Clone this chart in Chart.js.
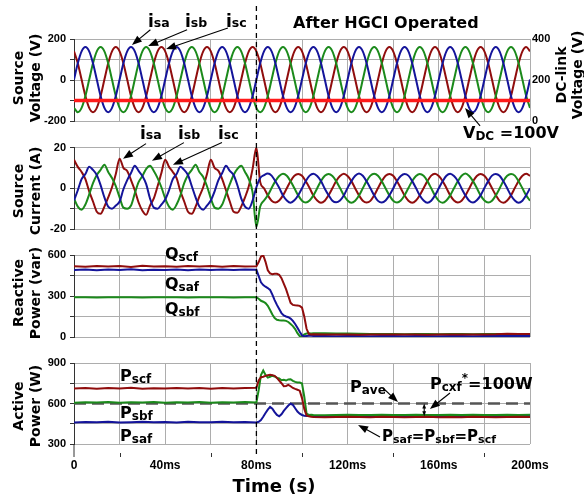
<!DOCTYPE html>
<html>
<head>
<meta charset="utf-8">
<script src="https://cdn.jsdelivr.net/npm/chart.js@4.4.1/dist/chart.umd.min.js"></script>
<style>
  body { margin: 0; background: #fff; }
  #fig { position: relative; width: 584px; height: 497px; overflow: hidden;
         font-family: "DejaVu Sans", Verdana, sans-serif; font-weight: bold; color: #000; }
  #fig canvas { position: absolute; left: 0; }
  .lbl { position: absolute; white-space: nowrap; line-height: 1; z-index: 2; }
  .ax { position: absolute; white-space: nowrap; text-align: center; font-size: 14px; line-height: 17px;
        transform: translate(-50%, -50%) rotate(-90deg); z-index: 2; }
  .i { font-size: 17px; }
  .i .s { font-size: 12.5px; }
  .pq { font-size: 16px; }
  .pq .s { font-size: 12px; position: relative; top: 2px; }
  .sup { font-size: 12px; position: relative; top: -7px; }
</style>
</head>
<body>
<div id="fig">
  <canvas id="cVolt" width="584" height="134" style="top:0px"></canvas>
  <canvas id="cCurr" width="584" height="108" style="top:134px"></canvas>
  <canvas id="cReac" width="584" height="108" style="top:242px"></canvas>
  <canvas id="cAct" width="584" height="147" style="top:350px"></canvas>

  <div class="ax" style="left:27px;top:78px">Source<br>Voltage (V)</div>
  <div class="ax" style="left:27px;top:191px">Source<br>Current (A)</div>
  <div class="ax" style="left:27px;top:293px">Reactive<br>Power (var)</div>
  <div class="ax" style="left:27px;top:406px">Active<br>Power (W)</div>
  <div class="ax" style="left:569px;top:75px;line-height:16px">DC-link<br>Voltage (V)</div>

  <div class="lbl" style="left:293px;top:15px;font-size:16px">After HGCI Operated</div>

  <div class="lbl i" style="left:148px;top:13px">i<span class="s">sa</span></div>
  <div class="lbl i" style="left:185px;top:13px">i<span class="s">sb</span></div>
  <div class="lbl i" style="left:226px;top:13px">i<span class="s">sc</span></div>
  <div class="lbl pq" style="left:463px;top:125px">V<span class="s">DC</span> =100V</div>

  <div class="lbl i" style="left:140px;top:125px">i<span class="s">sa</span></div>
  <div class="lbl i" style="left:178px;top:125px">i<span class="s">sb</span></div>
  <div class="lbl i" style="left:218px;top:125px">i<span class="s">sc</span></div>

  <div class="lbl pq" style="left:165px;top:246px">Q<span class="s">scf</span></div>
  <div class="lbl pq" style="left:165px;top:276px">Q<span class="s">saf</span></div>
  <div class="lbl pq" style="left:165px;top:301px">Q<span class="s">sbf</span></div>

  <div class="lbl pq" style="left:120px;top:368px">P<span class="s">scf</span></div>
  <div class="lbl pq" style="left:120px;top:405px">P<span class="s">sbf</span></div>
  <div class="lbl pq" style="left:120px;top:428px">P<span class="s">saf</span></div>
  <div class="lbl pq" style="left:350px;top:379px">P<span class="s">ave</span></div>
  <div class="lbl pq" style="left:430px;top:376px">P<span class="s">cxf</span><span class="sup">*</span>=100W</div>
  <div class="lbl pq" style="left:382px;top:429px;font-size:15px">P<span class="s" style="font-size:11px">saf</span>=P<span class="s" style="font-size:11px">sbf</span>=P<span class="s" style="font-size:11px">scf</span></div>

  <div class="lbl" style="left:274px;top:477px;font-size:18px;transform:translateX(-50%)">Time (s)</div>
</div>

<script>
// ---- data ----
// waveforms are sampled every 5/3 ms (12 samples per 50 Hz cycle), 0..200 ms
const WAVE_STEP_MS = 5 / 3;

// source voltages (V)
const vSa = [
  2, 82, 140, 161, 140, 82, 2, -78, -136, -157, -136, -78,
  2, 82, 140, 161, 140, 82, 2, -78, -136, -157, -136, -78,
  2, 82, 140, 161, 140, 82, 2, -78, -136, -157, -136, -78,
  2, 82, 140, 161, 140, 82, 2, -78, -136, -157, -136, -78,
  2, 82, 140, 161, 140, 82, 2, -78, -136, -157, -136, -78,
  2, 82, 140, 161, 140, 82, 2, -78, -136, -157, -136, -78,
  2, 82, 140, 161, 140, 82, 2, -78, -136, -157, -136, -78,
  2, 82, 140, 161, 140, 82, 2, -78, -136, -157, -136, -78,
  2, 82, 140, 161, 140, 82, 2, -78, -136, -157, -136, -78,
  2, 82, 140, 161, 140, 82, 2, -78, -136, -157, -136, -78,
  2
];
const vSb = [
  -136, -157, -136, -78, 2, 82, 140, 161, 140, 82, 2, -78,
  -136, -157, -136, -78, 2, 82, 140, 161, 140, 82, 2, -78,
  -136, -157, -136, -78, 2, 82, 140, 161, 140, 82, 2, -78,
  -136, -157, -136, -78, 2, 82, 140, 161, 140, 82, 2, -78,
  -136, -157, -136, -78, 2, 82, 140, 161, 140, 82, 2, -78,
  -136, -157, -136, -78, 2, 82, 140, 161, 140, 82, 2, -78,
  -136, -157, -136, -78, 2, 82, 140, 161, 140, 82, 2, -78,
  -136, -157, -136, -78, 2, 82, 140, 161, 140, 82, 2, -78,
  -136, -157, -136, -78, 2, 82, 140, 161, 140, 82, 2, -78,
  -136, -157, -136, -78, 2, 82, 140, 161, 140, 82, 2, -78,
  -136
];
const vSc = [
  140, 82, 2, -78, -136, -157, -136, -78, 2, 82, 140, 161,
  140, 82, 2, -78, -136, -157, -136, -78, 2, 82, 140, 161,
  140, 82, 2, -78, -136, -157, -136, -78, 2, 82, 140, 161,
  140, 82, 2, -78, -136, -157, -136, -78, 2, 82, 140, 161,
  140, 82, 2, -78, -136, -157, -136, -78, 2, 82, 140, 161,
  140, 82, 2, -78, -136, -157, -136, -78, 2, 82, 140, 161,
  140, 82, 2, -78, -136, -157, -136, -78, 2, 82, 140, 161,
  140, 82, 2, -78, -136, -157, -136, -78, 2, 82, 140, 161,
  140, 82, 2, -78, -136, -157, -136, -78, 2, 82, 140, 161,
  140, 82, 2, -78, -136, -157, -136, -78, 2, 82, 140, 161,
  140
];
// DC-link voltage (right axis)
const vdcTimeMs = [0, 200];
const vdcLevel = [100, 100];

// source currents (A)
const iSa = [
  -6, -1, 4.5, 7, 10.5, 9, 6.5, 1.5, -4.5, -9, -10, -8.5,
  -6.5, -0.5, 4, 7.5, 11, 8.5, 6, 2, -5, -9.5, -10, -8,
  -5.5, -1, 4.5, 7, 10.5, 9, 6.5, 1, -4.5, -9, -10.5, -8.5,
  -6, -1.5, 4, 7.5, 11, 8.5, 6.5, 1.5, -5, -9, -10, -6,
  0.5, 5, 6.4, 7.2, 6.2, 3.4, 0.2, -3.6, -6, -7.1, -5.9, -3.4,
  0, 3.6, 6.2, 7.1, 6, 3.5, -0.2, -3.4, -6.1, -6.9, -6, -3.6,
  0.2, 3.5, 6.1, 7.2, 6.1, 3.4, 0, -3.5, -6.2, -7, -6, -3.4,
  -0.1, 3.6, 6, 7, 6.2, 3.5, 0.1, -3.6, -6, -7.1, -6.1, -3.5,
  0, 3.4, 6.1, 7.1, 6, 3.6, -0.1, -3.5, -6.1, -7, -5.9, -3.5,
  0.1, 3.5, 6.2, 7, 6.1, 3.4, 0, -3.6, -6, -7.1, -6.1, -3.4,
  0
];
const iSb = [
  -5, -9, -10.5, -8, -3, 2.5, 6.5, 9, 11.5, 8, 5, 1,
  -4.5, -9.5, -10, -8.5, -2.5, 3, 6, 9.5, 11, 8.5, 5, 0.5,
  -5, -9, -10.5, -8, -3.5, 2.5, 6.5, 9, 11.5, 8, 5.5, 1,
  -5, -9.5, -10, -8, -3, 2, 6.5, 9.5, 11, 8, 4.5, -2,
  -19, -9, -6, -3.5, 0.1, 3.5, 6, 7.1, 6.1, 3.4, 0, -3.5,
  -6.1, -7, -6, -3.5, 0, 3.6, 6.1, 7, 6, 3.5, 0.1, -3.4,
  -6, -7.1, -6.1, -3.6, 0, 3.5, 6.2, 7.1, 6.1, 3.4, -0.1, -3.5,
  -6.1, -7, -6, -3.4, 0.1, 3.6, 6, 7, 6.1, 3.5, 0, -3.6,
  -6.2, -7.1, -6, -3.5, 0, 3.4, 6.1, 7.2, 6, 3.5, 0.1, -3.5,
  -6, -7, -6.1, -3.5, -0.1, 3.6, 6.1, 7, 6.2, 3.4, 0, -3.5,
  -6.1
];
const iSc = [
  14, 10.5, 8, 4.5, -1.5, -6.5, -11.5, -12.5, -9, -4.5, 0.5, 7,
  14.5, 10, 8.5, 4, -1, -7, -11, -13, -8.5, -5, 1, 7.5,
  14, 10.5, 8, 5, -1.5, -6.5, -11.5, -12.5, -9, -4, 0.5, 7,
  14, 10, 8.5, 4.5, -1, -6.5, -11.5, -12, -9, -4.5, 1, 9.5,
  20, 3, 0, -3.5, -6.1, -7, -6, -3.5, 0, 3.5, 6.1, 7,
  6.1, 3.4, 0.1, -3.6, -6, -7.1, -6.1, -3.4, 0, 3.6, 6, 7.1,
  6, 3.5, -0.1, -3.5, -6.1, -7, -6.2, -3.5, 0.1, 3.5, 6.1, 7,
  6.1, 3.4, 0, -3.6, -6.1, -7.1, -6, -3.4, 0, 3.5, 6.2, 7.1,
  6, 3.6, 0.1, -3.5, -6, -7, -6.1, -3.6, -0.1, 3.4, 6, 7,
  6.1, 3.5, 0, -3.4, -6.2, -7.1, -6, -3.5, 0.1, 3.6, 6.1, 7.1,
  6.1
];

// power traces: shared time base (ms), denser through the transient
const tPowerMs = [
  0, 5, 10, 15, 20, 25, 30, 35, 40, 45, 50, 55, 60, 65, 70, 75, 80,
  81, 82, 83, 84, 85, 86, 87, 88, 89, 90, 91, 92, 93, 94, 95, 96, 97, 98, 99, 100, 101, 102, 103, 104, 105,
  110, 115, 120, 125, 130, 135, 140, 145, 150, 155, 160, 165, 170, 175, 180, 185, 190, 195, 200
];
// reactive power (var)
const qScf = [
  518, 514, 520, 515, 519, 513, 521, 516, 518, 514, 520, 515, 519, 514, 520, 516, 518,
  548, 588, 598, 550, 488, 465, 460, 463, 462, 455, 430, 390, 350, 300, 250, 235, 232, 230, 228, 215, 150, 60, 22, 18, 20,
  18, 19, 18, 17, 18, 18, 19, 18, 18, 17, 18, 18, 19, 18, 18, 20, 24, 22, 22
];
const qSaf = [
  490, 494, 489, 493, 490, 495, 489, 492, 490, 494, 489, 493, 490, 494, 490, 493, 492,
  445, 400, 380, 368, 358, 345, 310, 270, 235, 205, 175, 158, 150, 145, 135, 118, 95, 68, 38, 12, 5, 8, 10, 10, 8,
  8, 6, 7, 7, 6, 7, 7, 6, 7, 7, 6, 7, 7, 6, 7, 7, 8, 7, 8
];
const qSbf = [
  290, 290, 289, 290, 290, 290, 289, 290, 290, 290, 289, 290, 290, 290, 289, 290, 290,
  280, 265, 258, 248, 228, 198, 165, 138, 126, 122, 121, 120, 118, 110, 95, 80, 58, 28, 6, 3, 20, 26, 27, 26, 27,
  27, 26, 25, 23, 22, 22, 22, 21, 22, 22, 21, 22, 22, 21, 22, 22, 22, 22, 22
];
// active power (W)
const pScf = [
  712, 715, 710, 714, 711, 716, 710, 713, 712, 715, 711, 714, 710, 715, 711, 714, 716,
  770, 795, 798, 805, 810, 812, 810, 805, 790, 770, 750, 728, 730, 738, 728, 715, 708, 702, 695, 640, 560, 512, 505, 502, 500,
  498, 500, 502, 500, 499, 501, 500, 498, 500, 502, 499, 500, 498, 501, 500, 499, 500, 501, 500
];
const pSbf = [
  606, 610, 607, 611, 606, 609, 607, 612, 606, 610, 608, 611, 606, 610, 607, 611, 608,
  700, 810, 845, 812, 792, 798, 806, 800, 790, 785, 772, 775, 770, 778, 780, 768, 760, 755, 755, 748, 650, 525, 515, 516, 515,
  513, 515, 516, 514, 515, 516, 514, 515, 516, 515, 514, 516, 515, 516, 514, 515, 516, 515, 516
];
const pSaf = [
  460, 463, 461, 464, 460, 462, 465, 461, 463, 460, 464, 461, 462, 465, 461, 463, 460,
  465, 478, 502, 530, 555, 575, 562, 536, 515, 505, 520, 545, 565, 585, 598, 590, 565, 540, 525, 515, 510, 508, 508, 507, 508,
  507, 509, 506, 508, 507, 509, 507, 508, 506, 508, 507, 509, 507, 508, 507, 508, 509, 507, 508
];
const pAveTimeMs = [0, 200];
const pAve = [600, 600];

// axis ticks
const EVENT_MS = 80;
const voltLabels = [-200, 0, 200];
const currLabels = [-20, 0, 20];
const reacLabels = [0, 300, 600];
const actLabels = [300, 600, 900];
const minorTickMs = [20, 60, 100, 140, 180];

// annotation arrows, in data units [ms, value]
const voltArrows = [
  { from: [33.5, 245], to: [25.4, 171] },
  { from: [49.6, 245], to: [32.5, 166] },
  { from: [67.5, 254], to: [40.4, 151] },
  { from: [178.1, -224], to: [171.5, -137] }
];
const currArrows = [
  { from: [31.6, 21.9], to: [21.5, 14.5] },
  { from: [48.2, 22.4], to: [34.2, 13.5] },
  { from: [64.9, 22.4], to: [43.4, 11.5] }
];
const actArrows = [
  { from: [135.5, 715], to: [142.1, 611] },
  { from: [164.9, 678], to: [156.1, 559] },
  { from: [134.2, 352], to: [124.6, 441] }
];
const actGap = { t: 153.6, from: 600, to: 505 };

// ---- drawing ----
const BLUE = '#14149a', GREEN = '#1b8a1b', RED = '#900d0d';
const GRID = '#adadad';
const tickFont = { family: 'Liberation Sans', size: 11, weight: 'bold' };

const wave = arr => arr.map((v, i) => ({ x: i * WAVE_STEP_MS, y: v }));
const pairs = (ts, vs) => ts.map((t, i) => ({ x: t, y: vs[i] }));

function drawArrow(ctx, x0, y0, x1, y1, head) {
  const a = Math.atan2(y1 - y0, x1 - x0);
  const c = Math.cos(a), s = Math.sin(a);
  ctx.beginPath();
  ctx.moveTo(x0, y0);
  ctx.lineTo(x1 - c * head * 0.8, y1 - s * head * 0.8);
  ctx.stroke();
  ctx.beginPath();
  ctx.moveTo(x1, y1);
  ctx.lineTo(x1 - head * c + head * 0.38 * s, y1 - head * s - head * 0.38 * c);
  ctx.lineTo(x1 - head * c - head * 0.38 * s, y1 - head * s + head * 0.38 * c);
  ctx.closePath();
  ctx.fill();
}

const extrasPlugin = {
  id: 'extras',
  afterDraw(chart, args, opts) {
    const ctx = chart.ctx, xs = chart.scales.x, ys = chart.scales.y;
    const area = chart.chartArea;
    ctx.save();
    ctx.strokeStyle = '#000';
    ctx.fillStyle = '#000';

    // event marker
    const xe = xs.getPixelForValue(EVENT_MS);
    ctx.setLineDash([5, 4]);
    ctx.lineWidth = 1.3;
    ctx.beginPath();
    ctx.moveTo(xe, opts.dashTop || 0);
    ctx.lineTo(xe, opts.dashBottom || chart.height);
    ctx.stroke();
    ctx.setLineDash([]);

    ctx.lineWidth = 1.1;
    (opts.arrows || []).forEach(ar => {
      drawArrow(ctx,
        xs.getPixelForValue(ar.from[0]), ys.getPixelForValue(ar.from[1]),
        xs.getPixelForValue(ar.to[0]), ys.getPixelForValue(ar.to[1]), 10);
    });

    if (opts.gap) {
      const xg = xs.getPixelForValue(opts.gap.t);
      const ya = ys.getPixelForValue(opts.gap.from), yb = ys.getPixelForValue(opts.gap.to);
      const mid = (ya + yb) / 2;
      drawArrow(ctx, xg, mid, xg, ya, 5);
      drawArrow(ctx, xg, mid, xg, yb, 5);
    }

    if (opts.minorTicks) {
      ctx.strokeStyle = '#333';
      ctx.lineWidth = 1;
      ctx.beginPath();
      ctx.moveTo(area.left, area.bottom);
      ctx.lineTo(area.left, area.bottom + 13);
      opts.minorTicks.forEach(t => {
        const x = Math.round(xs.getPixelForValue(t)) + 0.5;
        ctx.moveTo(x, area.bottom + 9);
        ctx.lineTo(x, area.bottom + 13);
      });
      ctx.stroke();
    }
    ctx.restore();
  }
};

function panel(canvasId, cfg) {
  const scales = {
    x: {
      type: 'linear', min: 0, max: 200,
      afterFit: s => { s.height = cfg.xHeight || 0; },
      ticks: {
        stepSize: 20, display: !!cfg.showX, autoSkip: false, maxRotation: 0, padding: 14,
        color: '#000', font: { family: 'Liberation Sans', size: 12, weight: 'bold' },
        callback: v => v === 0 ? '0' : (v % 40 === 0 ? v + 'ms' : '')
      },
      grid: { color: GRID, drawTicks: false },
      border: { display: false }
    },
    y: {
      min: cfg.min, max: cfg.max,
      afterFit: s => { s.width = 74; },
      ticks: {
        stepSize: cfg.step, padding: 4, color: '#000', font: tickFont,
        callback: v => cfg.labels.includes(v) ? String(v) : ''
      },
      grid: { color: GRID, tickColor: '#333', tickLength: 4 },
      border: { color: '#333', width: 1 }
    }
  };
  if (cfg.right) scales.y2 = cfg.right;
  return new Chart(document.getElementById(canvasId), {
    type: 'line',
    data: { datasets: cfg.datasets },
    plugins: [extrasPlugin],
    options: {
      responsive: false, animation: false, events: [],
      layout: { padding: cfg.padding },
      elements: { point: { radius: 0 }, line: { borderWidth: 2 } },
      plugins: { legend: { display: false }, tooltip: { enabled: false }, extras: cfg.extras },
      scales
    }
  });
}

const smooth = { cubicInterpolationMode: 'monotone' };

panel('cVolt', {
  min: -200, max: 200, step: 100, labels: voltLabels,
  padding: { top: 39, bottom: 13, left: 0, right: 0 },
  right: {
    position: 'right', min: 0, max: 400,
    afterFit: s => { s.width = 54; },
    ticks: { stepSize: 200, padding: 2, color: '#000', font: tickFont },
    grid: { display: false, drawTicks: false },
    border: { display: false }
  },
  extras: { dashTop: 6, arrows: voltArrows },
  datasets: [
    { data: pairs(vdcTimeMs, vdcLevel), yAxisID: 'y2', borderColor: '#ff1a1a', borderWidth: 3.5 },
    { data: wave(vSa), borderColor: BLUE, ...smooth },
    { data: wave(vSb), borderColor: GREEN, ...smooth },
    { data: wave(vSc), borderColor: RED, ...smooth }
  ]
});

panel('cCurr', {
  min: -20, max: 20, step: 10, labels: currLabels,
  padding: { top: 13.5, bottom: 13, left: 0, right: 54 },
  extras: { arrows: currArrows },
  datasets: [
    { data: wave(iSa), borderColor: BLUE, ...smooth },
    { data: wave(iSb), borderColor: GREEN, ...smooth },
    { data: wave(iSc), borderColor: RED, ...smooth }
  ]
});

panel('cReac', {
  min: 0, max: 600, step: 150, labels: reacLabels,
  padding: { top: 13, bottom: 13, left: 0, right: 54 },
  extras: {},
  datasets: [
    { data: pairs(tPowerMs, qScf), borderColor: RED },
    { data: pairs(tPowerMs, qSaf), borderColor: BLUE },
    { data: pairs(tPowerMs, qSbf), borderColor: GREEN }
  ]
});

panel('cAct', {
  min: 300, max: 900, step: 150, labels: actLabels, showX: true, xHeight: 30,
  padding: { top: 13, bottom: 23, left: 0, right: 54 },
  extras: { dashBottom: 107, arrows: actArrows, gap: actGap, minorTicks: minorTickMs },
  datasets: [
    { data: pairs(tPowerMs, pScf), borderColor: RED },
    { data: pairs(tPowerMs, pSbf), borderColor: GREEN },
    { data: pairs(tPowerMs, pSaf), borderColor: BLUE },
    { data: pairs(pAveTimeMs, pAve), borderColor: '#555', borderWidth: 2.5, borderDash: [12, 6] }
  ]
});
</script>
</body>
</html>
